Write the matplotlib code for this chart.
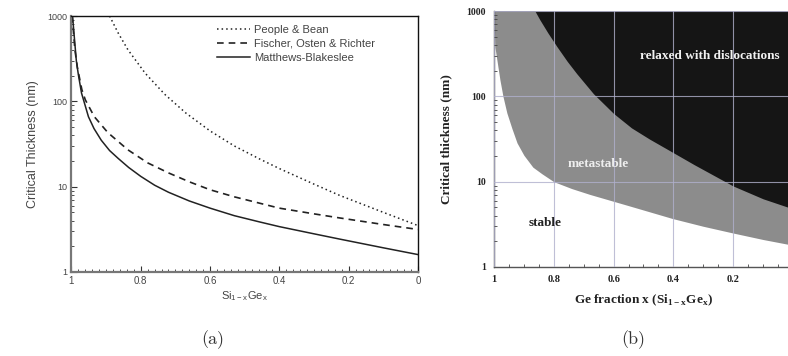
import numpy as np
import matplotlib.pyplot as plt

# (a) critical thickness curves
x_pb = [0.89, 0.865, 0.837, 0.787, 0.73, 0.67, 0.6, 0.53, 0.457, 0.4, 0.3, 0.226, 0.1, 0.0]
y_pb = [1000, 630, 402, 213, 120, 73, 45, 30, 21.1, 16.3, 10.7, 7.9, 5.0, 3.5]

x_for = [0.998, 0.99, 0.983, 0.97, 0.96, 0.934, 0.895, 0.837, 0.78, 0.72, 0.66, 0.6, 0.53,
         0.457, 0.4, 0.3, 0.226, 0.1, 0.0]
y_for = [1000, 400, 250, 137, 104, 66, 43, 27, 19, 14.5, 11.4, 9.2, 7.6,
         6.4, 5.6, 4.8, 4.3, 3.6, 3.15]

x_mb = [0.997, 0.994, 0.986, 0.98, 0.971, 0.951, 0.935, 0.914, 0.89, 0.865, 0.835, 0.8, 0.76,
        0.72, 0.66, 0.6, 0.53, 0.457, 0.4, 0.3, 0.226, 0.1, 0.0]
y_mb = [1000, 720, 300, 204, 125, 66, 48, 35, 26.5, 21.4, 16.8, 13.2, 10.4,
        8.6, 6.8, 5.6, 4.57, 3.86, 3.4, 2.8, 2.43, 1.92, 1.6]

# (b) region boundaries
x_lo = [1.0, 0.997, 0.98, 0.97, 0.957, 0.94, 0.923, 0.9, 0.87, 0.84, 0.8, 0.74, 0.68,
        0.547, 0.403, 0.3, 0.2, 0.1, 0.0]
y_lo = [1000, 380, 155, 100, 64, 42, 28.5, 20.4, 14.8, 12.4, 10, 8.3, 7.1,
        5.2, 3.7, 3.0, 2.5, 2.1, 1.8]

x_hi = [0.863, 0.847, 0.82, 0.79, 0.755, 0.723, 0.667, 0.6, 0.54, 0.48, 0.423, 0.33, 0.25,
        0.2, 0.1, 0.0]
y_hi = [1000, 794, 556, 385, 257, 184, 107, 63, 42.7, 31.6, 24.3, 15.8, 11.1,
        8.9, 6.3, 4.8]

x_labels_a = ['0', '0.2', '0.4', '0.6', '0.8', '1']
x_labels_b = ['0.2', '0.4', '0.6', '0.8', '1']
y_labels = ['1', '10', '100', '1000']

plt.rcParams['mathtext.fontset'] = 'custom'
plt.rcParams['mathtext.rm'] = 'Liberation Sans'
plt.rcParams['mathtext.bf'] = 'Liberation Serif:bold'

fig = plt.figure(figsize=(7.88, 3.56), dpi=100)

# ---------------- panel (a)
sans = 'Liberation Sans'
txt = '#444444'
ax1 = fig.add_axes([0.0907, 0.236, 0.4397, 0.719])
ax1.semilogy(x_pb, y_pb, color='#222222', lw=1.1, ls=(0, (1, 2)), label='People & Bean')
ax1.semilogy(x_for, y_for, color='#222222', lw=1.2, ls=(0, (4, 3)), label='Fischer, Osten & Richter')
ax1.semilogy(x_mb, y_mb, color='#222222', lw=1.1, label='Matthews-Blakeslee')
ax1.set_xlim(1, 0)
ax1.set_ylim(1, 1000)
ax1.set_xticks(np.arange(0, 1.01, 0.2))
ax1.set_xticklabels(x_labels_a, fontfamily=sans, fontsize=7, color=txt)
ax1.set_xticks(np.arange(0, 1.01, 0.02), minor=True)
ax1.set_yticks([1, 10, 100, 1000])
ax1.set_yticklabels(y_labels, fontfamily=sans, fontsize=6.5, color=txt)
ax1.tick_params(which='both', direction='in', color='#333333')
ax1.tick_params(which='major', length=4, width=0.8, pad=3)
ax1.tick_params(which='minor', length=2, width=0.6)
for s in ['left', 'bottom']:
    ax1.spines[s].set_color('#777777')
    ax1.spines[s].set_linewidth(1.6)
for s in ['top', 'right']:
    ax1.spines[s].set_color('#111111')
    ax1.spines[s].set_linewidth(1.0)
ax1.set_ylabel('Critical Thickness (nm)', fontfamily=sans, fontsize=9, color=txt, labelpad=6)
ax1.set_xlabel(r'Si$_{\mathrm{1-x}}$Ge$_{\mathrm{x}}$', fontfamily=sans, fontsize=8, color=txt, labelpad=2)
leg = ax1.legend(loc='upper left', bbox_to_anchor=(0.42, 0.965), frameon=False,
                 borderpad=0, borderaxespad=0, handlelength=3.0, handletextpad=0.3,
                 labelspacing=0.35, prop={'family': sans, 'size': 8})
for t in leg.get_texts():
    t.set_color(txt)

# ---------------- panel (b)
serif = 'Liberation Serif'
ax2 = fig.add_axes([0.6269, 0.25, 0.3794, 0.719])
ax2.set_xlim(1, 0)
ax2.set_ylim(1, 1000)
ax2.set_yscale('log')
ax2.fill_between(x_lo, y_lo, 1000, color='#8c8c8c', lw=0, zorder=1)
ax2.fill_between(x_hi, y_hi, 1000, color='#151515', lw=0, zorder=2)
ax2.set_xticks(np.arange(0.2, 1.01, 0.2))
ax2.set_xticklabels(x_labels_b, fontfamily=serif, fontweight='bold', fontsize=7.5, color='#222222')
ax2.set_xticks(np.arange(0, 1.01, 0.05), minor=True)
ax2.set_yticks([1, 10, 100, 1000])
ax2.set_yticklabels(y_labels, fontfamily=serif, fontweight='bold', fontsize=7, color='#222222')
ax2.grid(True, which='major', color='#b0b0cc', lw=0.8, alpha=0.8, zorder=3)
ax2.set_axisbelow(False)
ax2.tick_params(which='both', direction='in', color='#444444')
ax2.tick_params(which='major', length=0, pad=6)
ax2.tick_params(which='minor', length=2.5, width=0.6)
for s in ['left', 'bottom']:
    ax2.spines[s].set_color('#555555')
    ax2.spines[s].set_linewidth(1.0)
ax2.spines['top'].set_color('#555555')
ax2.spines['top'].set_linewidth(0.6)
ax2.spines['right'].set_visible(False)
ax2.set_ylabel('Critical thickness (nm)', fontfamily=serif, fontweight='bold', fontsize=9.5,
               color='#222222', labelpad=10)
ax2.set_xlabel(r'Ge fraction x (Si$_{\mathbf{1-x}}$Ge$_{\mathbf{x}}$)', fontfamily=serif,
               fontweight='bold', fontsize=9.5, color='#222222', labelpad=6)
ax2.text(0.51, 300, 'relaxed with dislocations', fontfamily=serif, fontweight='bold',
         fontsize=9.5, color='#f2f2f2', va='center', zorder=5)
ax2.text(0.65, 16, 'metastable', fontfamily=serif, fontweight='bold',
         fontsize=9.5, color='#eeeeee', ha='center', va='center', zorder=5)
ax2.text(0.83, 3.3, 'stable', fontfamily=serif, fontweight='bold',
         fontsize=9.5, color='#222222', ha='center', va='center', zorder=5)

# captions
fig.text(0.270, 0.045, '(a)', fontfamily='cmr10', fontsize=13, ha='center', va='center', color='#333333')
fig.text(0.803, 0.045, '(b)', fontfamily='cmr10', fontsize=13, ha='center', va='center', color='#333333')

fig.savefig('out.png', dpi=100)
